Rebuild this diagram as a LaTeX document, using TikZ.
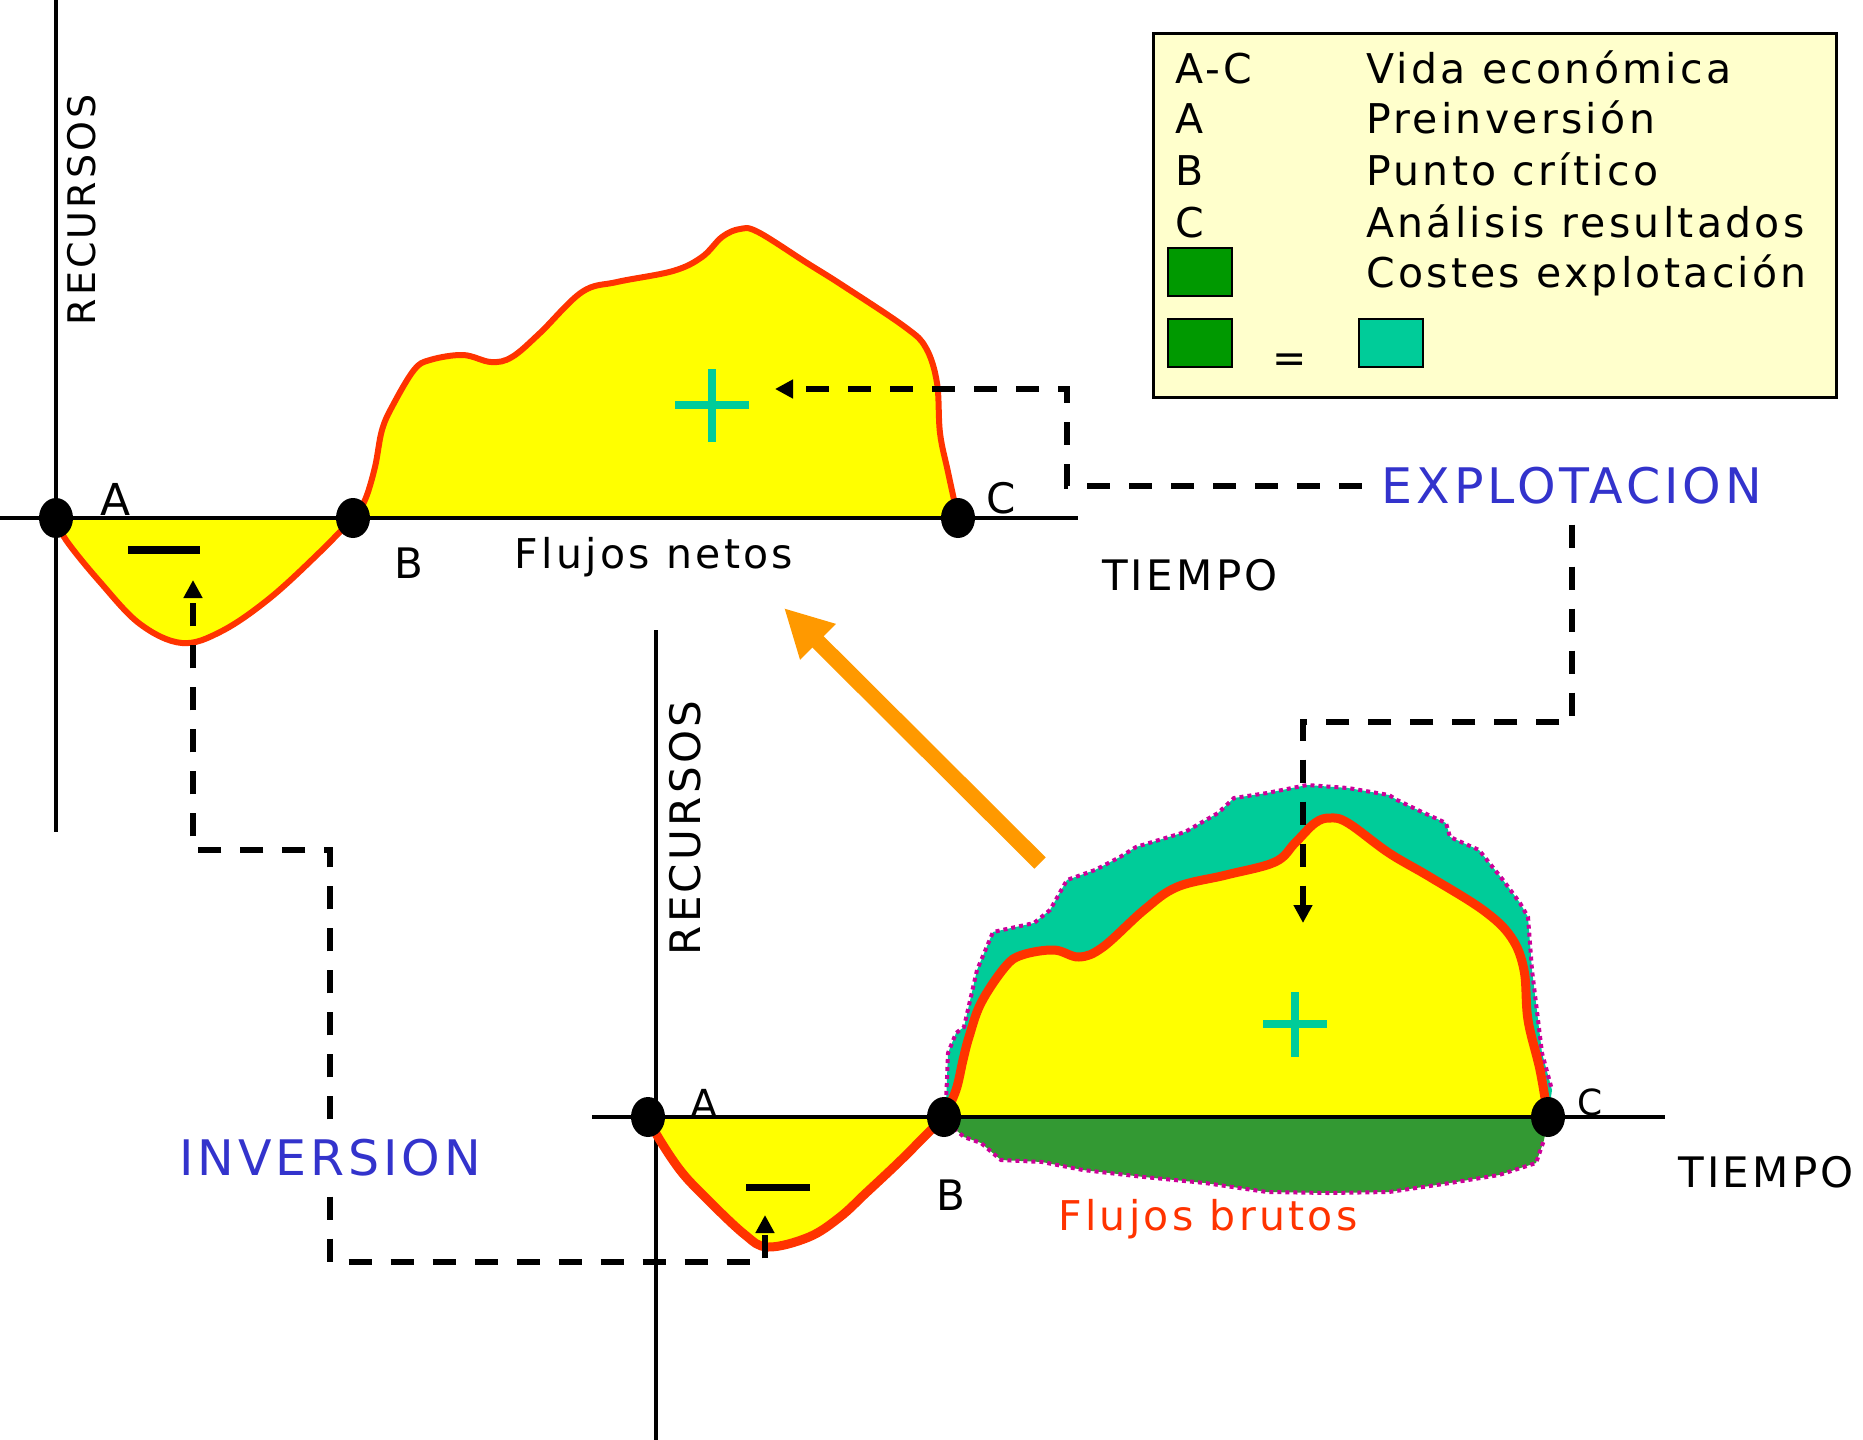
\documentclass[tikz,border=0pt]{standalone}
\usepackage{fontspec}
\setmainfont{DejaVu Sans}[LetterSpace=8]
\usetikzlibrary{arrows.meta,shapes.geometric}
\definecolor{cyel}{HTML}{FFFF00}
\definecolor{cred}{HTML}{FF3300}
\definecolor{cteal}{HTML}{00CC99}
\definecolor{cgreen}{HTML}{339933}
\definecolor{lgreen}{HTML}{009900}
\definecolor{lbg}{HTML}{FFFFCC}
\definecolor{cblue}{HTML}{3333CC}
\definecolor{corange}{HTML}{FF9900}
\definecolor{cmag}{HTML}{CC0099}
\begin{document}
\begin{tikzpicture}[x=1pt,y=-1pt,
  fs/.style={font=\fontsize{#1}{#1}\selectfont},
  txt/.style={inner sep=0pt, anchor=base},
  ltxt/.style={inner sep=0pt, anchor=base west, fs=41},
  dot/.style={ellipse, fill=black, minimum width=34pt, minimum height=40pt, inner sep=0pt},
  axisline/.style={line width=4pt, black},
  dashconn/.style={line width=6pt, black, dash pattern=on 23pt off 19pt},
  tipA/.style={-{Triangle[length=18pt,width=18pt]}},
  sq/.style={draw=black, line width=2pt, minimum width=64pt, minimum height=48pt, inner sep=0pt},
  redcurve/.style={cred, line width=#1, line join=round},
  magline/.style={cmag, line width=4pt, dash pattern=on 4pt off 4pt},
  signline/.style={line width=8pt}]
\useasboundingbox (0,0) rectangle (1863,1440);

% ---------------- legend
\node[draw=black, line width=2.5pt, fill=lbg, minimum width=683pt, minimum height=364pt,
      anchor=north west, inner sep=0pt] (legend) at (1152,32) {};
\node[ltxt] (k1) at (1175,83) {A-C};
\node[ltxt] (v1) at (1366,83) {Vida económica};
\node[ltxt] (k2) at (1175,133) {A};
\node[ltxt] (v2) at (1366,133) {Preinversión};
\node[ltxt] (k3) at (1175,185) {B};
\node[ltxt] (v3) at (1366,185) {Punto crítico};
\node[ltxt] (k4) at (1175,237) {C};
\node[ltxt] (v4) at (1366,237) {Análisis resultados};
\node[sq, fill=lgreen] (s1) at (1200,272) {};
\node[ltxt] (v5) at (1366,287) {Costes explotación};
\node[sq, fill=lgreen] (s2) at (1200,343) {};
\node[ltxt] (eq) at (1272,372) {=};
\node[sq, fill=cteal] (s3) at (1391,343) {};

% ---------------- top diagram
\fill[cyel] plot[smooth,tension=0.6] coordinates {(56,518) (66,540) (100,582) (140,624) (182,643) (222,631) (270,598) (320,552) (353,518)} -- cycle;
\fill[cyel] plot[smooth,tension=0.6] coordinates {(353,518) (365,500) (375,467) (382,430) (393,405) (414,370) (430,360) (463,355) (491,362) (512,357) (540,333) (582,292) (617,282) (673,271) (702,257) (722,237) (740,229) (758,232) (807,263) (842,285) (905,327) (926,348) (937,383) (940,433) (948,472) (958,518)} -- cycle;
\coordinate (tax1) at (56,0);
\coordinate (tax2) at (56,832);
\coordinate (tax3) at (0,518);
\coordinate (tax4) at (1078,518);
\draw[axisline] (tax1) -- (tax2);
\draw[axisline] (tax3) -- (tax4);
\draw[redcurve=6pt] plot[smooth,tension=0.6] coordinates {(56,518) (66,540) (100,582) (140,624) (182,643) (222,631) (270,598) (320,552) (353,518)};
\draw[redcurve=6pt] plot[smooth,tension=0.6] coordinates {(353,518) (365,500) (375,467) (382,430) (393,405) (414,370) (430,360) (463,355) (491,362) (512,357) (540,333) (582,292) (617,282) (673,271) (702,257) (722,237) (740,229) (758,232) (807,263) (842,285) (905,327) (926,348) (937,383) (940,433) (948,472) (958,518)};
\node[dot] (tA) at (56,518) {};
\node[dot] (tB) at (353,518) {};
\node[dot] (tC) at (958,518) {};
\node[txt, fs=44] (tlA) at (116,515) {A};
\node[txt, fs=42] (tlB) at (409,578) {B};
\node[txt, fs=42] (tlC) at (1001,513) {C};
\node[txt, fs=41] (tflu) at (654,568) {Flujos netos};
\node[txt, fs=42] (ttie) at (1190,590) {TIEMPO};
\node[inner sep=0pt, fs=38, rotate=90] (trec) at (82,210) {RECURSOS};
\draw[signline, black] (128,550) -- (200,550);
\draw[signline, cteal] (675,405) -- (749,405) (712,369) -- (712,442);

% ---------------- bottom diagram
\fill[cteal] plot coordinates {(944,1117) (946,1103) (948,1053) (956,1033) (964,1027) (977,970) (993,932) (1034,923) (1050,910) (1067,880) (1095,870) (1120,857) (1136,847) (1185,832) (1218,813) (1234,798) (1267,793) (1307,785) (1348,788) (1389,795) (1397,800) (1422,812) (1446,823) (1450,837) (1479,850) (1495,870) (1503,880) (1520,903) (1528,917) (1532,970) (1536,1003) (1542,1053) (1552,1090) (1548,1117)} -- cycle;
\fill[cgreen] plot coordinates {(944,1117) (948,1123) (964,1137) (981,1143) (1001,1160) (1042,1162) (1083,1170) (1144,1177) (1205,1183) (1267,1192) (1328,1193) (1389,1192) (1450,1183) (1499,1175) (1536,1163) (1544,1140) (1548,1117)} -- cycle;
\fill[cyel] plot[smooth,tension=0.6] coordinates {(944,1117) (956,1090) (963,1060) (969,1037) (981,1003) (1005,967) (1022,955) (1054,950) (1079,957) (1103,947) (1144,910) (1177,887) (1226,875) (1275,862) (1295,843) (1315,823) (1330,818) (1348,823) (1389,853) (1430,877) (1483,910) (1511,937) (1524,970) (1528,1020) (1540,1070) (1548,1117)} -- cycle;
\fill[cyel] plot[smooth,tension=0.6] coordinates {(648,1117) (658,1137) (680,1170) (703,1195) (744,1234) (768,1247) (809,1237) (840,1217) (866,1193) (898,1163) (924,1137) (944,1117)} -- cycle;
\draw[magline] plot coordinates {(946,1103) (948,1053) (956,1033) (964,1027) (977,970) (993,932) (1034,923) (1050,910) (1067,880) (1095,870) (1120,857) (1136,847) (1185,832) (1218,813) (1234,798) (1267,793) (1307,785) (1348,788) (1389,795) (1397,800) (1422,812) (1446,823) (1450,837) (1479,850) (1495,870) (1503,880) (1520,903) (1528,917) (1532,970) (1536,1003) (1542,1053) (1552,1090)};
\draw[magline] plot coordinates {(948,1123) (964,1137) (981,1143) (1001,1160) (1042,1162) (1083,1170) (1144,1177) (1205,1183) (1267,1192) (1328,1193) (1389,1192) (1450,1183) (1499,1175) (1536,1163) (1544,1140)};
\coordinate (bax1) at (656,630);
\coordinate (bax2) at (656,1440);
\coordinate (bax3) at (592,1117);
\coordinate (bax4) at (1665,1117);
\draw[axisline] (bax1) -- (bax2);
\draw[axisline] (bax3) -- (bax4);
\draw[redcurve=9pt] plot[smooth,tension=0.6] coordinates {(944,1117) (956,1090) (963,1060) (969,1037) (981,1003) (1005,967) (1022,955) (1054,950) (1079,957) (1103,947) (1144,910) (1177,887) (1226,875) (1275,862) (1295,843) (1315,823) (1330,818) (1348,823) (1389,853) (1430,877) (1483,910) (1511,937) (1524,970) (1528,1020) (1540,1070) (1548,1117)};
\draw[redcurve=9pt] plot[smooth,tension=0.6] coordinates {(648,1117) (658,1137) (680,1170) (703,1195) (744,1234) (768,1247) (809,1237) (840,1217) (866,1193) (898,1163) (924,1137) (944,1117)};
\node[dot] (bA) at (648,1117) {};
\node[dot] (bB) at (944,1117) {};
\node[dot] (bC) at (1548,1117) {};
\node[txt, fs=40] (blA) at (704,1118) {A};
\node[txt, fs=42] (blB) at (951,1210) {B};
\node[txt, fs=36] (blC) at (1590,1115) {C};
\node[txt, fs=42] (btie) at (1766,1187) {TIEMPO};
\node[txt, fs=41, cred] (bflu) at (1208,1230) {Flujos brutos};
\node[inner sep=0pt, fs=42, rotate=90] (brec) at (685,828) {RECURSOS};
\draw[signline, black, line width=7pt] (746,1187) -- (810,1187);
\draw[signline, cteal] (1263,1024) -- (1327,1024) (1295,992) -- (1295,1057);

% ---------------- orange arrow
\coordinate (oS) at (1040,863);
\coordinate (oE) at (784,608);
\draw[corange, line width=16pt, -{Triangle[length=48pt,width=47pt]}] (oS) -- (oE);

% ---------------- labels with dashed connectors
\node[inner sep=0pt, fs=49, cblue] (inv) at (330,1158) {INVERSION};
\node[inner sep=0pt, fs=49, cblue] (expl) at (1572,486) {EXPLOTACION};
\coordinate (i1) at (330,850);
\coordinate (i2) at (193,850);
\coordinate (tneg) at (193,580);
\coordinate (i3) at (330,1262);
\coordinate (i4) at (765,1262);
\coordinate (bneg) at (765,1215);
\draw[dashconn, tipA] ([yshift=20pt]inv.north) -- (i1) -- (i2) -- (tneg);
\draw[dashconn, tipA] ([yshift=-20pt]inv.south) -- (i3) -- (i4) -- (bneg);
\coordinate (e1) at (1067,486);
\coordinate (e2) at (1067,389);
\coordinate (tpos) at (775,389);
\coordinate (e3) at (1572,722);
\coordinate (e4) at (1303,722);
\coordinate (bpos) at (1303,923);
\draw[dashconn, tipA] ([xshift=-20pt]expl.west) -- (e1) -- (e2) -- (tpos);
\draw[dashconn, tipA] ([yshift=-20pt]expl.south) -- (e3) -- (e4) -- (bpos);
\end{tikzpicture}
\end{document}
